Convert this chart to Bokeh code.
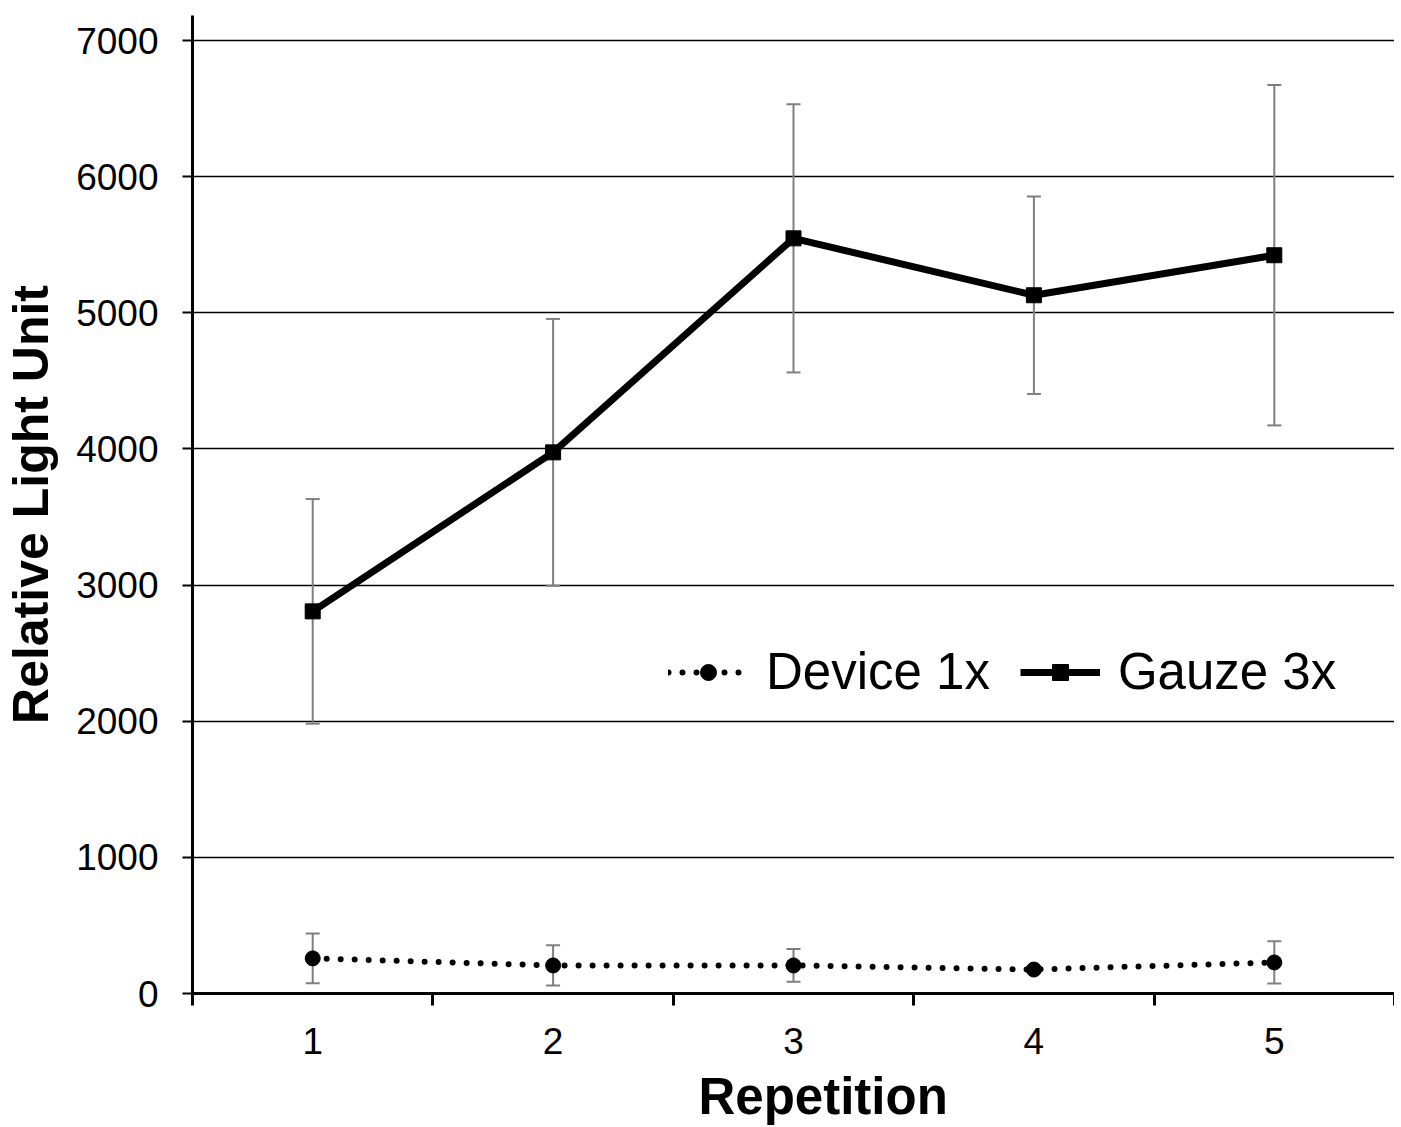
from bokeh.plotting import figure
from bokeh.models import FixedTicker, Range1d, Legend, LegendItem, Title
from bokeh.embed import file_html
from bokeh.resources import INLINE

reps = [1, 2, 3, 4, 5]
x_labels = ["1", "2", "3", "4", "5"]
device = [258, 206, 206, 176, 228]
device_err = [183, 148, 120, 25, 155]
gauze = [2807, 3975, 5547, 5129, 5423]
gauze_err = [825, 980, 985, 725, 1250]
y_ticks = [0, 1000, 2000, 3000, 4000, 5000, 6000, 7000]

FONT = "Liberation Sans"

p = figure(frame_width=1202, frame_height=978, output_backend="svg",
           toolbar_location=None, x_range=Range1d(0.5, 5.5), y_range=Range1d(0, 7184),
           min_border_left=191, min_border_right=0, min_border_top=15, min_border_bottom=0)
p.outline_line_color = None
p.xgrid.grid_line_color = None
p.ygrid.grid_line_color = "black"
p.ygrid.grid_line_width = 1.5
p.ygrid.ticker = FixedTicker(ticks=y_ticks[1:])

# y axis
p.yaxis.ticker = FixedTicker(ticks=y_ticks)
p.yaxis.axis_line_width = 3
p.yaxis.axis_line_color = "black"
p.yaxis.major_tick_out = 10
p.yaxis.major_tick_in = 0
p.yaxis.major_tick_line_width = 2
p.yaxis.minor_tick_line_color = None
p.yaxis.major_label_text_font = FONT
p.yaxis.major_label_text_font_size = "37px"
p.yaxis.major_label_text_color = "black"
p.yaxis.major_label_standoff = 24
p.yaxis.axis_label = "Relative Light Unit"
p.yaxis.axis_label_text_font = FONT
p.yaxis.axis_label_text_font_style = "bold"
p.yaxis.axis_label_text_font_size = "50px"
p.yaxis.axis_label_text_color = "black"
p.yaxis.axis_label_standoff = 14

# x axis
p.xaxis.ticker = FixedTicker(ticks=reps, minor_ticks=[0.5, 1.5, 2.5, 3.5, 4.5, 5.5])
p.xaxis.major_label_overrides = {r: l for r, l in zip(reps, x_labels)}
p.xaxis.axis_line_width = 3
p.xaxis.axis_line_color = "black"
p.xaxis.major_tick_out = 0
p.xaxis.major_tick_in = 0
p.xaxis.minor_tick_out = 12
p.xaxis.minor_tick_in = 0
p.xaxis.minor_tick_line_width = 3
p.xaxis.minor_tick_line_color = "black"
p.xaxis.major_label_text_font = FONT
p.xaxis.major_label_text_font_size = "37px"
p.xaxis.major_label_text_color = "black"
p.xaxis.major_label_standoff = 22

xtitle = Title(text="Repetition", align="left", offset=506, text_font=FONT,
               text_font_style="bold", text_font_size="51px", text_color="black",
               standoff=18)
p.add_layout(xtitle, "below")

ERR = "#7f7f7f"
for vals, errs in ((gauze, gauze_err), (device, device_err)):
    lo = [v - e for v, e in zip(vals, errs)]
    hi = [v + e for v, e in zip(vals, errs)]
    p.segment(x0=reps, y0=lo, x1=reps, y1=hi, line_color=ERR, line_width=2)
    p.dash(x=reps, y=lo, size=14, line_color=ERR, line_width=2)
    p.dash(x=reps, y=hi, size=14, line_color=ERR, line_width=2)

g_line = p.line(reps, gauze, line_color="black", line_width=7)
g_mark = p.scatter(reps, gauze, marker="square", size=15, fill_color="black", line_color="black")
d_line = p.line(reps, device, line_color="black", line_width=6, line_dash="0 14", line_cap="round")
d_mark = p.scatter(reps, device, marker="circle", size=15, fill_color="black", line_color="black")

legend = Legend(items=[LegendItem(label="Device 1x", renderers=[d_line, d_mark]),
                       LegendItem(label="Gauze 3x", renderers=[g_line, g_mark])],
                location=(476, 292), orientation="horizontal")
legend.label_text_font = FONT
legend.label_text_font_size = "51px"
legend.label_text_color = "black"
legend.glyph_width = 80
legend.glyph_height = 40
legend.label_standoff = 18
legend.spacing = 30
legend.padding = 4
legend.border_line_color = None
legend.background_fill_alpha = 0
p.add_layout(legend)

open("out.html", "w").write(file_html(p, INLINE))
